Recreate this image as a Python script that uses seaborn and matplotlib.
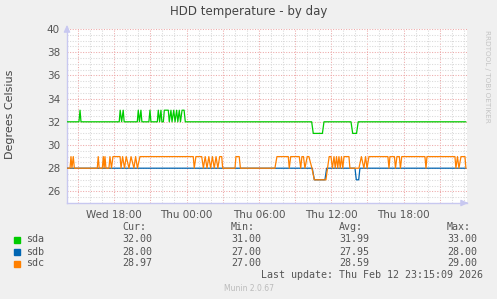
import matplotlib
matplotlib.use("Agg")
import matplotlib.pyplot as plt
from matplotlib.patches import Rectangle
import seaborn as sns
import pandas as pd

# ---------------- data (hours since Wed 00:00) ----------------
sda_t = [14.08, 15.08, 15.17, 15.25,
         18.42, 18.50, 18.62, 18.75, 18.83,
         19.92, 20.00, 20.10, 20.22, 20.30,
         20.88, 20.97, 21.05,
         21.58, 21.66, 21.77, 21.88, 21.96,
         22.08, 22.16, 22.49, 22.57,
         22.71, 22.80, 22.94, 23.05, 23.18, 23.28, 23.40, 23.50, 23.63, 23.80, 23.90,
         34.38, 34.51, 35.27, 35.40,
         37.64, 37.78, 38.10, 38.24, 47.17]
sda_v = [32, 32, 33, 32,
         32, 33, 32, 33, 32,
         32, 33, 32, 33, 32,
         32, 33, 32,
         32, 33, 32, 33, 32,
         32, 33, 33, 32,
         33, 32, 33, 32, 33, 32, 33, 32, 33, 33, 32,
         32, 31, 31, 32,
         32, 31, 31, 32, 32]

sdb_t = [14.08, 34.43, 34.60, 35.48, 35.62, 37.97, 38.08, 38.28, 38.38, 47.17]
sdb_v = [28, 28, 27, 27, 28, 28, 27, 27, 28, 28]

sdc_t = [14.08, 14.34, 14.42, 14.50, 14.61, 14.70,
         16.60, 16.68, 16.76,
         17.02, 17.10, 17.17, 17.24, 17.32,
         17.57, 17.65, 17.78, 17.90, 18.00,
         18.49, 18.57, 18.70, 18.86, 19.00, 19.23, 19.40, 19.64, 19.78, 19.93, 20.14,
         24.56, 24.64, 24.78,
         25.26, 25.40, 25.55, 25.70, 25.85, 26.00, 26.15, 26.30, 26.45, 26.60, 26.75, 26.92, 27.00,
         28.02, 28.10, 28.37, 28.47,
         31.33, 31.50, 32.44, 32.52, 32.64,
         33.35, 33.47, 33.57, 33.70, 33.82, 34.01, 34.15, 34.40, 34.60,
         35.56, 35.83, 35.98, 36.10, 36.23, 36.33, 36.44, 36.54, 36.64, 36.75, 36.85, 36.96, 37.06, 37.15,
         37.47, 37.55,
         38.30, 38.50, 38.71, 38.85, 38.97, 39.13,
         40.70, 40.79, 40.87,
         41.24, 41.33, 41.45, 41.65, 41.74, 41.85,
         43.77, 43.86, 43.94,
         46.26, 46.34, 46.47, 46.59, 46.76, 47.09, 47.17]
sdc_v = [28, 28, 29, 28, 29, 28,
         28, 29, 28,
         28, 29, 28, 29, 28,
         28, 29, 28, 29, 29,
         29, 28, 29, 28, 29, 28, 29, 28, 29, 28, 29,
         29, 28, 29,
         29, 28, 29, 28, 29, 28, 29, 28, 29, 28, 29, 29, 28,
         28, 29, 29, 28,
         28, 29, 29, 28, 29,
         29, 28, 29, 29, 28, 29, 29, 28, 27,
         27, 29, 29, 28, 29, 28, 29, 28, 29, 28, 29, 28, 29, 29,
         29, 28,
         28, 29, 28, 29, 28, 29,
         29, 28, 29,
         29, 28, 29, 29, 28, 29,
         29, 28, 29,
         29, 28, 29, 28, 29, 29, 28]

disks = ["sda", "sdb", "sdc"]
colors = ["#00CC00", "#0066B3", "#FF8000"]
cur_vals = ["32.00", "28.00", "28.97"]
min_vals = ["31.00", "27.00", "27.00"]
avg_vals = ["31.99", "27.95", "28.59"]
max_vals = ["33.00", "28.00", "29.00"]

x_ticks = [18, 24, 30, 36, 42]
x_labels = ["Wed 18:00", "Thu 00:00", "Thu 06:00", "Thu 12:00", "Thu 18:00"]
y_ticks = [26, 28, 30, 32, 34, 36, 38, 40]

df = pd.concat([
    pd.DataFrame({"hour": sda_t, "temp": sda_v, "disk": "sda"}),
    pd.DataFrame({"hour": sdb_t, "temp": sdb_v, "disk": "sdb"}),
    pd.DataFrame({"hour": sdc_t, "temp": sdc_v, "disk": "sdc"}),
], ignore_index=True)

# ---------------- figure ----------------
sns.set_theme(style="white")
plt.rcParams["font.family"] = ["DejaVu Sans"]

W, H = 497, 299
BG = "#F0F0F0"
fig = plt.figure(figsize=(W / 100, H / 100), dpi=100, facecolor=BG)

def fx(px):
    return px / W

def fy(py):
    return 1 - py / H

L, R, T, B = 67, 467, 29, 203
ax = fig.add_axes([fx(L), fy(B), (R - L) / W, (B - T) / H])
ax.set_facecolor("white")

sns.lineplot(data=df, x="hour", y="temp", hue="disk", hue_order=disks,
             palette=colors, sort=False, estimator=None, linewidth=0.9,
             legend=False, ax=ax, zorder=3)

ax.set_xlim(14.09, 47.26)
ax.set_ylim(25, 40)

# ticks & grid
major_x = [15, 18, 21, 24, 27, 30, 33, 36, 39, 42, 45]
ax.set_xticks(major_x)
ax.set_xticklabels([x_labels[x_ticks.index(v)] if v in x_ticks else "" for v in major_x])
ax.set_xticks([h for h in range(15, 48)], minor=True)
ax.set_yticks(y_ticks)
ax.set_yticklabels([str(v) for v in y_ticks])
ax.set_yticks([25 + 0.5 * i for i in range(31)], minor=True)

ax.grid(which="minor", color="#D8D8D8", linestyle=(0, (1, 1.5)), linewidth=0.75, zorder=0)
ax.grid(which="major", color="#EDA8A8", linestyle=(0, (1, 1.5)), linewidth=0.75, zorder=1)
ax.set_axisbelow(True)

ax.tick_params(axis="both", which="major", labelsize=7.5, labelcolor="#555555",
               length=2, color="#E08080", pad=3, direction="out")
ax.tick_params(axis="both", which="minor", length=1.5, color="#C8C8C8", direction="out")
ax.set_xlabel("")
ax.set_ylabel("")

for s in ["top", "right"]:
    ax.spines[s].set_visible(False)
for s in ["left", "bottom"]:
    ax.spines[s].set_color("#C8C8F0")
    ax.spines[s].set_linewidth(1.0)

# axis arrows
ax.annotate("", xy=(0, 1.04), xytext=(0, 0.99), xycoords="axes fraction",
            arrowprops=dict(arrowstyle="-|>,head_length=0.35,head_width=0.16",
                            color="#C8C8F0", lw=0.9), annotation_clip=False)
ax.annotate("", xy=(1.01, 0), xytext=(0.99, 0), xycoords="axes fraction",
            arrowprops=dict(arrowstyle="-|>,head_length=0.35,head_width=0.16",
                            color="#C8C8F0", lw=0.9), annotation_clip=False)

# titles
fig.text(0.5, fy(11), "HDD temperature - by day", ha="center", va="center",
         fontsize=8.5, color="#444444")
fig.text(fx(10), fy(114), "Degrees Celsius", rotation=90, ha="center", va="center",
         fontsize=8, color="#444444")
fig.text(fx(487), fy(30), "RRDTOOL / TOBI OETIKER", rotation=270, ha="center", va="top",
         fontsize=5.2, color="#C4C4C4")

# legend table
mono = "DejaVu Sans Mono"
fs = 7.2
tc = "#555555"
col_x = [122, 231, 339, 447]
for x, h in zip(col_x, ["Cur:", "Min:", "Avg:", "Max:"]):
    fig.text(fx(x), fy(227.5), h, family=mono, fontsize=fs, color=tc, va="center")
row_y = [239.5, 252, 263.5]
for i, d in enumerate(disks):
    fig.patches.append(Rectangle((fx(14), fy(row_y[i] + 3)), 6 / W, 6 / H,
                                 transform=fig.transFigure, color=colors[i]))
    fig.text(fx(26.5), fy(row_y[i]), d, family=mono, fontsize=fs, color=tc, va="center")
    for x, vals in zip(col_x, [cur_vals, min_vals, avg_vals, max_vals]):
        fig.text(fx(x), fy(row_y[i]), vals[i], family=mono, fontsize=fs, color=tc, va="center")
fig.text(fx(483), fy(275.5), "Last update: Thu Feb 12 23:15:09 2026", family=mono,
         fontsize=fs, color=tc, va="center", ha="right")
fig.text(0.5, fy(288.5), "Munin 2.0.67", ha="center", va="center", fontsize=5.5,
         color="#BBBBBB")

fig.savefig("out.png", dpi=100, facecolor=BG)
